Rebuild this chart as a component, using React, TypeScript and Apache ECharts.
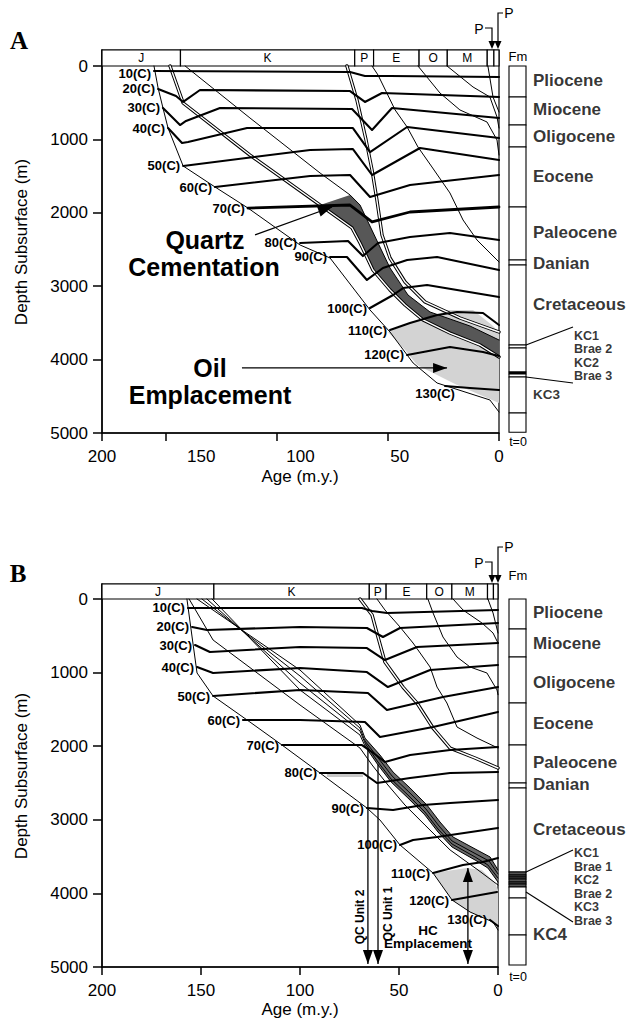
import React, { useEffect, useRef } from "react";
import * as echarts from "echarts";

const FONT = '"Liberation Sans", Arial, Helvetica, sans-serif';
const SERIF = '"Liberation Serif", "DejaVu Serif", serif';

// ---------------- axes / labels ----------------
const AGE_TICKS = [0, 50, 100, 150, 200];
const DEPTH_TICKS = [0, 1000, 2000, 3000, 4000, 5000];
const ISO_NAMES = ["10(C)", "20(C)", "30(C)", "40(C)", "50(C)", "60(C)", "70(C)", "80(C)", "90(C)", "100(C)", "110(C)", "120(C)", "130(C)"];
const PERIOD_NAMES = ["J", "K", "P", "E", "O", "M", "", ""];
const PERIOD_BOUNDS = [200, 143.5, 65, 56.5, 36, 23.3, 5.3, 2.3, 0];

// ---------------- Panel A : horizons [age (m.y.), depth (m)] ----------------
const A_BASEMENT = [[159.4, 0], [156.2, 300], [152.4, 572], [149.1, 845], [142.3, 1362], [127.9, 1649], [113.1, 1935], [89.6, 2439], [76.1, 2616], [58.1, 3324], [49.1, 3624], [38.7, 4046], [27.9, 4319], [4.1, 4550], [0, 4714]];
const A_BAND_BASE = [[148.2, 0], [142.3, 504], [112.2, 1213], [80.6, 1894], [66.2, 2207], [62.6, 2411], [56.8, 2779], [49.1, 3052], [42.3, 3256], [34.2, 3460], [22.1, 3638], [8.6, 3801], [0, 3964]];
const A_BAND_TOP = [[141.4, 0], [112.2, 708], [80.6, 1458], [67.1, 1757], [62.6, 1894], [54.5, 2411], [49.1, 2752], [41.0, 3120], [31.1, 3351], [13.1, 3542], [0, 3733]];
const A_PALEO_BASE = [[68.5, 0], [64.0, 463], [59.9, 1008], [57.2, 1417], [55.0, 1826], [52.7, 2302], [49.1, 2616], [42.3, 2943], [33.3, 3215], [17.6, 3433], [0, 3624]];
const A_EOCENE = [[57.2, 0], [54.5, 123], [46.8, 599], [41.4, 831], [36.5, 1104], [30.2, 1376], [22.1, 1730], [16.2, 2098], [9.9, 2371], [0, 2670]];
const A_OLIGOCENE = [[36.5, 0], [26.6, 368], [17.6, 599], [5.4, 763], [0.9, 1008], [0, 1213]];
const A_MIOCENE = [[23.4, 0], [11.7, 286], [4.1, 422], [0.9, 695], [0, 845]];
const A_PLIOCENE = [[5.0, 0], [2.7, 422], [0, 627]];

// Panel A : isotherms
const A_ISO_10 = [[159.4, 68], [67.1, 82], [60.4, 136], [49.1, 136], [0, 150]];
const A_ISO_20 = [[156.2, 313], [145.5, 409], [142.3, 490], [134.7, 327], [67.1, 341], [60.4, 490], [52.7, 368], [0, 422]];
const A_ISO_30 = [[152.4, 572], [143.7, 804], [141.0, 749], [125.7, 572], [66.2, 586], [57.2, 872], [48.2, 572], [0, 708]];
const A_ISO_40 = [[149.1, 845], [142.8, 1049], [140.1, 1035], [113.5, 845], [65.8, 845], [58.1, 1172], [41.4, 831], [0, 981]];
const A_ISO_50 = [[142.3, 1362], [85.1, 1144], [65.8, 1131], [57.2, 1485], [35.6, 1117], [0, 1281]];
const A_ISO_60 = [[127.9, 1649], [85.1, 1499], [67.1, 1485], [58.1, 1785], [40.1, 1621], [0, 1485]];
const A_ISO_70 = [[113.1, 1935], [67.1, 1894], [57.2, 2125], [40.1, 1989], [0, 1921]];
const A_ISO_80 = [[89.6, 2411], [68.0, 2384], [61.3, 2589], [54.5, 2411], [40.1, 2330], [22.1, 2275], [0, 2371]];
const A_ISO_90 = [[76.1, 2602], [68.5, 2602], [59.5, 2915], [52.3, 2752], [41.4, 2643], [27.9, 2602], [0, 2779]];
const A_ISO_100 = [[58.1, 3297], [47.7, 3120], [43.2, 3025], [32.4, 2984], [0, 3147]];
const A_ISO_110 = [[49.1, 3597], [40.1, 3501], [27.9, 3392], [18.9, 3351], [7.2, 3365], [0, 3529]];
const A_ISO_120 = [[41.4, 3937], [22.1, 3828], [7.2, 3896], [0, 3951]];
const A_ISO_130 = [[24.3, 4360], [13.1, 4387], [0, 4414]];

const A_OIL = [[50, 3624], [40.1, 3501], [27.9, 3392], [23.4, 3324], [11.7, 3324], [3.2, 3529], [0, 3624], [0, 4591], [18.9, 4346], [36.9, 4074], [42.3, 3869]];
const A_ARROWS = [[109.9, 2302, 75.2, 1921, 0], [115.8, 4114, 23.4, 4114, 0]];

// ---------------- Panel B : horizons ----------------
const B_BASEMENT = [[157.1, 0], [154.5, 516], [152.0, 1005], [143.9, 1318], [125.3, 1671], [109.1, 1984], [89.9, 2364], [66.2, 2840], [59.6, 3003], [49.5, 3342], [32.8, 3723], [23.2, 4090], [14.1, 4253], [2.5, 4389], [0, 4497]];
const B_K1 = [[152.0, 0], [100, 965], [69.7, 1712], [67.2, 1889], [59.6, 2120], [53.0, 2351], [44.4, 2568], [35.9, 2799], [29.3, 3030], [22.7, 3234], [10.6, 3410], [4.0, 3505], [0, 3682]];
const B_K2 = [[149.5, 0], [100, 1046], [69.7, 1753], [67.2, 1929], [60.1, 2174], [53.5, 2405], [45.0, 2622], [36.4, 2853], [29.8, 3084], [23.2, 3288], [11.1, 3465], [4.5, 3560], [0, 3736]];
const B_K3 = [[147.0, 0], [100, 1141], [69.7, 1793], [67.2, 1957], [60.6, 2215], [54.0, 2446], [45.5, 2663], [36.9, 2894], [30.3, 3125], [23.2, 3329], [11.6, 3505], [5.1, 3614], [0, 3791]];
const B_K4 = [[144.4, 0], [100, 1236], [69.7, 1848], [67.2, 1997], [60.6, 2255], [54.0, 2486], [45.5, 2704], [36.9, 2935], [30.3, 3166], [23.2, 3370], [11.6, 3546], [5.1, 3655], [0, 3845]];
const B_K5 = [[156.0, 0], [143.9, 557], [100, 1440], [69.7, 2025], [63.6, 2255], [55.6, 2527], [47.0, 2799], [36.9, 3071], [24.2, 3410], [10.1, 3682], [0, 3886]];
const B_PALEO_BASE = [[69.7, 0], [63.6, 217], [60.6, 516], [57.1, 856], [48.0, 1196], [40.9, 1413], [32.8, 1753], [24.2, 2025], [11.6, 2160], [0, 2296]];
const B_EOCENE = [[61.1, 0], [57.1, 149], [49.5, 380], [42.9, 598], [34.3, 924], [30.8, 1196], [25.8, 1413], [20.7, 1739], [10.6, 1889], [0, 2025]];
const B_OLIGOCENE = [[35.4, 0], [32.8, 190], [27.8, 516], [20.7, 788], [14.1, 924], [5.6, 1005], [0.5, 1236], [0, 1300]];
const B_MIOCENE = [[22.7, 0], [17.7, 149], [8.1, 326], [2.5, 462], [0, 598]];
const B_PLIOCENE = [[5.1, 0], [2.5, 190], [0, 462]];

// Panel B : isotherms
const B_ISO_10 = [[156.6, 122], [68.7, 122], [63.6, 163], [56.1, 190], [0, 149]];
const B_ISO_20 = [[154.5, 380], [147.0, 421], [100, 380], [66.2, 394], [58.1, 516], [49.5, 394], [0, 326]];
const B_ISO_30 = [[153.0, 625], [145.5, 720], [100, 652], [66.2, 666], [57.1, 829], [40.9, 652], [0, 598]];
const B_ISO_40 = [[152.0, 924], [143.9, 1005], [100, 938], [66.2, 992], [55.6, 1196], [34.3, 965], [0, 897]];
const B_ISO_50 = [[143.9, 1318], [100, 1236], [65.7, 1277], [56.1, 1508], [27.8, 1332], [0, 1196]];
const B_ISO_60 = [[128.8, 1644], [100, 1644], [67.2, 1671], [59.6, 1875], [32.8, 1739], [0, 1535]];
const B_ISO_70 = [[109.1, 1984], [68.7, 1984], [63.6, 2079], [57.1, 2215], [44.4, 2120], [24.2, 2052], [0, 2011]];
const B_ISO_80 = [[89.9, 2364], [68.2, 2364], [61.1, 2500], [44.4, 2432], [24.2, 2364], [0, 2351]];
const B_ISO_90 = [[66.2, 2840], [53.0, 2867], [37.9, 2799], [24.2, 2772], [0, 2731]];
const B_ISO_100 = [[49.5, 3342], [42.9, 3274], [30.8, 3234], [0, 3111]];
const B_ISO_110 = [[32.8, 3723], [17.7, 3614], [7.6, 3573], [0, 3519]];
const B_ISO_120 = [[23.2, 4090], [0.5, 3981]];
const B_ISO_130 = [[4.0, 4361], [0, 4443]];

const B_OIL = [[32.8, 3723], [15.7, 3655], [8.1, 3682], [1.5, 3859], [0, 3954], [0, 4457], [2.5, 4389], [14.1, 4253], [23.2, 4090]];
const B_STRIP80 = [[86.4, 2364], [68.2, 2364], [68.2, 2418], [86.4, 2418]];
const B_ARROWS = [[65.7, 2030, 65.7, 4960, 0], [60.6, 2250, 60.6, 4960, 0], [15.2, 3655, 15.2, 4960, 1]];

// ---------------- formation columns (present-day depth, m) ----------------
const FM_BOUNDS_A = [0, 422, 804, 1104, 1921, 2643, 2711, 3801, 3842, 4169, 4196, 4237, 4728, 4990];
const FM_SHADE_A = [0, 0, 0, 0, 0, 0, 0, 0, 0, 1, 0, 0, 0];
const FM_NAMES_A = ["Pliocene", "Miocene", "Oligocene", "Eocene", "Paleocene", "Danian", "Cretaceous", "KC3"];
const FM_LABEL_DEPTH_A = [191, 586, 954, 1512, 2262, 2684, 3256, 4482];
const FM_SUB_NAMES_A = ["KC1", "Brae 2", "KC2", "Brae 3"];
const FM_SUB_DEPTH_A = [3678, 3856, 4046, 4224];
const FM_LEADERS_A = [[3801, 3556], [4237, 4319]];

const FM_BOUNDS_B = [0, 408, 788, 1413, 1984, 2500, 2568, 3709, 3750, 3777, 3804, 3845, 3872, 3913, 4062, 4565, 4973];
const FM_SHADE_B = [0, 0, 0, 0, 0, 0, 0, 2, 2, 2, 2, 2, 2, 0, 0, 0];
const FM_NAMES_B = ["Pliocene", "Miocene", "Oligocene", "Eocene", "Paleocene", "Danian", "Cretaceous", "KC4"];
const FM_LABEL_DEPTH_B = [190, 611, 1141, 1698, 2215, 2527, 3125, 4565];
const FM_SUB_NAMES_B = ["KC1", "Brae 1", "KC2", "Brae 2", "KC3", "Brae 3"];
const FM_SUB_DEPTH_B = [3451, 3641, 3818, 4008, 4185, 4375];
const FM_LEADERS_B = [[3709, 3410], [3981, 4389]];

// ---------------- helpers ----------------
// Panel A time axis is compressed before 150 m.y.
const squeezeA = (a: number) => (a <= 150 ? a : 150 + (a - 150) * 0.577);
const ident = (a: number) => a;
const XMAX_A = squeezeA(200);

type Pt = number[];

function lineS(pts: Pt[], ax: number, xf: (a: number) => number, width: number, color: string, z: number) {
  return {
    type: "line", xAxisIndex: ax, yAxisIndex: ax, silent: true, z,
    data: pts.map((p) => [xf(p[0]), p[1]]),
    symbol: "none", showSymbol: false,
    lineStyle: { color, width, join: "round", cap: "round" },
    emphasis: { disabled: true },
  };
}

function polyS(pts: Pt[], ax: number, xf: (a: number) => number, fill: string, z: number) {
  return {
    type: "custom", xAxisIndex: ax, yAxisIndex: ax, silent: true, z,
    data: [[1, 1]],
    renderItem: (_p: any, api: any) => ({
      type: "polygon",
      shape: { points: pts.map((p) => api.coord([xf(p[0]), p[1]])) },
      style: { fill, stroke: "none" },
    }),
  };
}

function periodS(ax: number, xf: (a: number) => number, yMin: number) {
  return {
    type: "custom", xAxisIndex: ax, yAxisIndex: ax, silent: true, z: 2,
    data: PERIOD_NAMES.map((_n, i) => [xf(PERIOD_BOUNDS[i]), xf(PERIOD_BOUNDS[i + 1]), i]),
    renderItem: (_p: any, api: any) => {
      const a = api.coord([api.value(0), yMin]);
      const b = api.coord([api.value(1), 0]);
      const name = PERIOD_NAMES[api.value(2)];
      return {
        type: "group",
        children: [
          { type: "rect", shape: { x: a[0], y: a[1], width: b[0] - a[0], height: b[1] - a[1] }, style: { fill: "#fff", stroke: "#000", lineWidth: 1.2 } },
          { type: "text", x: (a[0] + b[0]) / 2, y: (a[1] + b[1]) / 2, style: { text: name, fill: "#000", font: `12px ${FONT}`, align: "center", verticalAlign: "middle" } },
        ],
      };
    },
  };
}

function arrowS(arrows: Pt[], ax: number, xf: (a: number) => number) {
  return {
    type: "custom", xAxisIndex: ax, yAxisIndex: ax, silent: true, z: 8,
    data: arrows.map((a) => [xf(a[0]), a[1], xf(a[2]), a[3], a[4]]),
    renderItem: (_p: any, api: any) => {
      const p1 = api.coord([api.value(0), api.value(1)]);
      const p2 = api.coord([api.value(2), api.value(3)]);
      const head = (tip: number[], from: number[]) => {
        const dx = tip[0] - from[0], dy = tip[1] - from[1];
        const L = Math.hypot(dx, dy) || 1;
        const ux = dx / L, uy = dy / L;
        const hl = 14, hw = 5;
        const bx = tip[0] - ux * hl, by = tip[1] - uy * hl;
        return { type: "polygon", shape: { points: [tip, [bx - uy * hw, by + ux * hw], [bx + uy * hw, by - ux * hw]] }, style: { fill: "#000" } };
      };
      const children: any[] = [
        { type: "line", shape: { x1: p1[0], y1: p1[1], x2: p2[0], y2: p2[1] }, style: { stroke: "#000", lineWidth: 1.3 } },
        head(p2, p1),
      ];
      if (api.value(4)) children.push(head(p1, p2));
      return { type: "group", children };
    },
  };
}

function isoLabelS(isos: Pt[][], ax: number, xf: (a: number) => number, tweaks: Record<number, any>) {
  return {
    type: "scatter", xAxisIndex: ax, yAxisIndex: ax, silent: true, z: 10, clip: false,
    symbolSize: 0, itemStyle: { color: "#000" },
    data: isos.map((iso, i) => {
      const d: any = { value: [xf(iso[0][0]), iso[0][1]], name: ISO_NAMES[i] };
      if (tweaks[i]) d.label = tweaks[i];
      return d;
    }),
    label: { show: true, position: "left", distance: 3, formatter: "{b}", fontFamily: FONT, fontSize: 13, fontWeight: "bold", color: "#000", opacity: 1 },
    emphasis: { disabled: true },
  };
}

function fmS(ax: number, bounds: number[], shade: number[]) {
  return {
    type: "custom", xAxisIndex: ax, yAxisIndex: ax, silent: true, z: 2,
    data: bounds.slice(0, -1).map((t, i) => [t, bounds[i + 1], shade[i]]),
    renderItem: (_p: any, api: any) => {
      const a = api.coord([0, api.value(0)]);
      const b = api.coord([1, api.value(1)]);
      const s = api.value(2);
      return {
        type: "rect",
        shape: { x: a[0], y: a[1], width: b[0] - a[0], height: b[1] - a[1] },
        style: { fill: s === 1 ? "#000" : s === 2 ? "#555" : "#fff", stroke: "#000", lineWidth: 1.1 },
      };
    },
  };
}

function fmLabelS(ax: number, names: string[], depths: number[], distance: number, sizeOf: (n: string) => number) {
  return {
    type: "scatter", xAxisIndex: ax, yAxisIndex: ax, silent: true, z: 10, clip: false,
    symbolSize: 0, itemStyle: { color: "#000" },
    data: names.map((n, i) => ({ value: [1, depths[i]], name: n, label: { fontSize: sizeOf(n) } })),
    label: { show: true, position: "right", distance, formatter: "{b}", fontFamily: FONT, fontWeight: "bold", color: "#000" },
    emphasis: { disabled: true },
  };
}

function leaderS(ax: number, leaders: Pt[]) {
  return {
    type: "custom", xAxisIndex: ax, yAxisIndex: ax, silent: true, z: 9,
    data: leaders,
    renderItem: (_p: any, api: any) => {
      const a = api.coord([1, api.value(0)]);
      const b = api.coord([1, api.value(1)]);
      return { type: "line", shape: { x1: a[0], y1: a[1], x2: b[0] + 47, y2: b[1] }, style: { stroke: "#000", lineWidth: 1.1 } };
    },
  };
}

function doubleS(pts: Pt[], ax: number, xf: (a: number) => number) {
  return [lineS(pts, ax, xf, 3.4, "#000", 3), lineS(pts, ax, xf, 1.4, "#fff", 4)];
}

function panelSeries(cfg: any) {
  const { ax, col, xf, yMin } = cfg;
  const s: any[] = [];
  s.push(periodS(ax, xf, yMin));
  s.push(polyS(cfg.oil, ax, xf, "#d3d3d3", 1));
  s.push(polyS(cfg.band, ax, xf, cfg.bandColor, 1));
  (cfg.extraPolys || []).forEach((p: Pt[]) => s.push(polyS(p, ax, xf, "#c8c8c8", 1)));
  cfg.thin.forEach((l: Pt[]) => s.push(lineS(l, ax, xf, 1, "#000", 3)));
  cfg.doubles.forEach((l: Pt[]) => s.push(...doubleS(l, ax, xf)));
  cfg.isos.forEach((l: Pt[], i: number) => s.push(lineS(l, ax, xf, i === 6 && cfg.boldSeventy ? 2.8 : 2.1, "#000", 5)));
  s.push(isoLabelS(cfg.isos, ax, xf, cfg.tweaks || {}));
  s.push(arrowS(cfg.arrows, ax, xf));
  s.push(fmS(col, cfg.fmBounds, cfg.fmShade));
  s.push(fmLabelS(col, cfg.fmNames, cfg.fmDepths, 7, (n: string) => cfg.fmSize[n] || 17));
  s.push(fmLabelS(col, cfg.fmSubNames, cfg.fmSubDepths, 48, () => 12.5));
  s.push(leaderS(col, cfg.leaders));
  return s;
}

function xAxisMain(grid: number, max: number, xf: (a: number) => number, evenLabels: boolean) {
  const step = max / 4;
  return {
    gridIndex: grid, type: "value", min: 0, max, inverse: true,
    axisLine: { onZero: false, lineStyle: { color: "#000", width: 1.5 } },
    axisTick: { customValues: AGE_TICKS.map(xf), length: 8, lineStyle: { color: "#000", width: 1.5 } },
    axisLabel: {
      customValues: evenLabels ? AGE_TICKS.map((_t, i) => i * step) : AGE_TICKS,
      formatter: (v: number) => (evenLabels ? String(AGE_TICKS[Math.round(v / step)]) : String(Math.round(v))),
      fontSize: 17, color: "#000", fontFamily: FONT, margin: 15,
    },
    splitLine: { show: false },
  };
}

function yAxisMain(grid: number, yMin: number) {
  return {
    gridIndex: grid, type: "value", min: yMin, max: 5000, inverse: true,
    axisLine: { onZero: false, lineStyle: { color: "#000", width: 1.5 } },
    axisTick: { customValues: DEPTH_TICKS, length: 9, lineStyle: { color: "#000", width: 1.5 } },
    axisLabel: { customValues: DEPTH_TICKS, formatter: (v: number) => String(Math.round(v)), fontSize: 17, color: "#000", fontFamily: FONT, margin: 14 },
    splitLine: { show: false },
  };
}

function txt(text: string, x: number, y: number, font: string, rotation = 0) {
  return { type: "text", x, y, rotation, silent: true, z: 20, style: { text, font, fill: "#000", align: "center", verticalAlign: "middle" } };
}

function pArrows(yBase: number) {
  const g: any[] = [];
  g.push(txt("P", 479, yBase - 21, `14px ${FONT}`));
  g.push(txt("P", 509, yBase - 37, `14px ${FONT}`));
  g.push({ type: "polyline", silent: true, shape: { points: [[485, yBase - 22], [492, yBase - 22], [492, yBase - 6]] }, style: { stroke: "#000", lineWidth: 1.2, fill: null } });
  g.push({ type: "polyline", silent: true, shape: { points: [[503, yBase - 37], [498, yBase - 37], [498, yBase - 6]] }, style: { stroke: "#000", lineWidth: 1.2, fill: null } });
  g.push({ type: "polygon", silent: true, shape: { points: [[488.5, yBase - 9], [495.5, yBase - 9], [492, yBase - 1]] }, style: { fill: "#000" } });
  g.push({ type: "polygon", silent: true, shape: { points: [[494.5, yBase - 9], [501.5, yBase - 9], [498, yBase - 1]] }, style: { fill: "#000" } });
  return g;
}

function buildOption() {
  const panelA = {
    ax: 0, col: 1, xf: squeezeA, yMin: -218,
    oil: A_OIL,
    band: A_BAND_TOP.slice(3).concat(A_BAND_BASE.slice(3).reverse()),
    bandColor: "#575757",
    thin: [A_BASEMENT, A_BAND_TOP, A_EOCENE, A_OLIGOCENE, A_MIOCENE, A_PLIOCENE],
    doubles: [A_BAND_BASE, A_PALEO_BASE],
    isos: [A_ISO_10, A_ISO_20, A_ISO_30, A_ISO_40, A_ISO_50, A_ISO_60, A_ISO_70, A_ISO_80, A_ISO_90, A_ISO_100, A_ISO_110, A_ISO_120, A_ISO_130],
    boldSeventy: true,
    tweaks: { 0: { offset: [0, 3] }, 12: { position: "bottom", distance: 1, offset: [-10, 0] } },
    arrows: A_ARROWS,
    fmBounds: FM_BOUNDS_A, fmShade: FM_SHADE_A,
    fmNames: FM_NAMES_A, fmDepths: FM_LABEL_DEPTH_A, fmSize: { KC3: 13.5 } as Record<string, number>,
    fmSubNames: FM_SUB_NAMES_A, fmSubDepths: FM_SUB_DEPTH_A, leaders: FM_LEADERS_A,
  };
  const panelB = {
    ax: 2, col: 3, xf: ident, yMin: -204,
    oil: B_OIL,
    band: B_K1.slice(3).concat(B_K4.slice(3).reverse()),
    bandColor: "#6a6a6a",
    extraPolys: [B_STRIP80],
    thin: [B_BASEMENT, B_K1, B_K2, B_K3, B_K4, B_K5, B_EOCENE, B_OLIGOCENE, B_MIOCENE, B_PLIOCENE],
    doubles: [B_PALEO_BASE],
    isos: [B_ISO_10, B_ISO_20, B_ISO_30, B_ISO_40, B_ISO_50, B_ISO_60, B_ISO_70, B_ISO_80, B_ISO_90, B_ISO_100, B_ISO_110, B_ISO_120, B_ISO_130],
    boldSeventy: false,
    tweaks: {},
    arrows: B_ARROWS,
    fmBounds: FM_BOUNDS_B, fmShade: FM_SHADE_B,
    fmNames: FM_NAMES_B, fmDepths: FM_LABEL_DEPTH_B, fmSize: {} as Record<string, number>,
    fmSubNames: FM_SUB_NAMES_B, fmSubDepths: FM_SUB_DEPTH_B, leaders: FM_LEADERS_B,
  };

  const graphic: any[] = [
    txt("A", 19, 40, `bold 25px ${SERIF}`),
    txt("B", 18, 573, `bold 25px ${SERIF}`),
    txt("Depth Subsurface (m)", 21, 242, `17px ${FONT}`, Math.PI / 2),
    txt("Depth Subsurface (m)", 21, 776, `17px ${FONT}`, Math.PI / 2),
    txt("Age (m.y.)", 300, 476, `17px ${FONT}`),
    txt("Age (m.y.)", 300, 1009, `17px ${FONT}`),
    txt("Quartz", 205, 240, `bold 25px ${FONT}`),
    txt("Cementation", 204, 267, `bold 25px ${FONT}`),
    txt("Oil", 210, 368, `bold 25px ${FONT}`),
    txt("Emplacement", 210, 395, `bold 25px ${FONT}`),
    txt("QC Unit 2", 360, 917, `bold 12px ${FONT}`, Math.PI / 2),
    txt("QC Unit 1", 388, 914, `bold 12px ${FONT}`, Math.PI / 2),
    txt("HC", 428, 930, `bold 13.5px ${FONT}`),
    txt("Emplacement", 428, 943, `bold 13.5px ${FONT}`),
    txt("Fm", 518, 56, `13px ${FONT}`),
    txt("Fm", 518, 575, `13px ${FONT}`),
    txt("t=0", 518, 442, `12.5px ${FONT}`),
    txt("t=0", 518, 977, `12.5px ${FONT}`),
    ...pArrows(50),
    ...pArrows(584),
  ];

  return {
    animation: false,
    backgroundColor: "#fff",
    textStyle: { fontFamily: FONT },
    grid: [
      { left: 102, top: 50, width: 397, height: 383, show: true, borderColor: "#000", borderWidth: 1.2, backgroundColor: "transparent" },
      { left: 509, top: 66, width: 17, height: 367 },
      { left: 102, top: 584, width: 396, height: 383, show: true, borderColor: "#000", borderWidth: 1.2, backgroundColor: "transparent" },
      { left: 509, top: 599, width: 17, height: 368 },
    ],
    xAxis: [
      xAxisMain(0, XMAX_A, squeezeA, true),
      { gridIndex: 1, type: "value", min: 0, max: 1, show: false },
      xAxisMain(2, 200, ident, false),
      { gridIndex: 3, type: "value", min: 0, max: 1, show: false },
    ],
    yAxis: [
      yAxisMain(0, -218),
      { gridIndex: 1, type: "value", min: 0, max: 5000, inverse: true, show: false },
      yAxisMain(2, -204),
      { gridIndex: 3, type: "value", min: 0, max: 5000, inverse: true, show: false },
    ],
    series: [...panelSeries(panelA), ...panelSeries(panelB)],
    graphic,
  };
}

export default function App() {
  const ref = useRef<HTMLDivElement>(null);
  useEffect(() => {
    document.body.style.margin = "0";
    const el = ref.current!;
    const chart = echarts.init(el, null, { renderer: "svg" });
    chart.setOption(buildOption() as any);
    return () => chart.dispose();
  }, []);
  return <div ref={ref} style={{ position: "fixed", left: 0, top: 0, width: 630, height: 1021, background: "#fff" }} />;
}
